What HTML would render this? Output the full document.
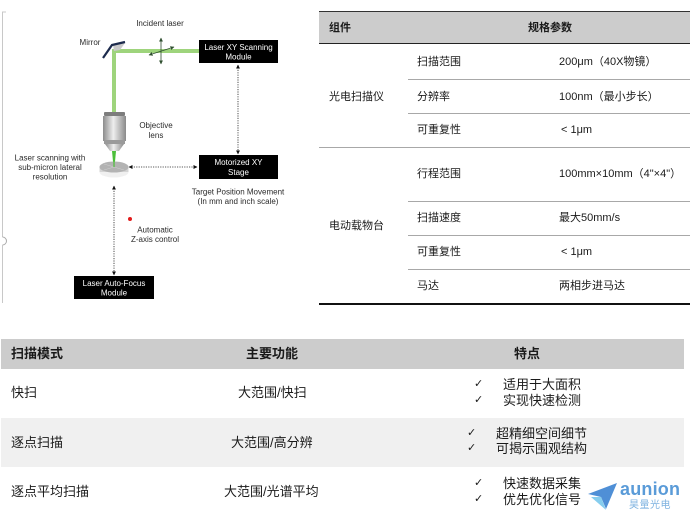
<!DOCTYPE html>
<html><head><meta charset="utf-8"><style>
*{margin:0;padding:0;box-sizing:border-box}
body{width:696px;height:522px;background:#fff;position:relative;overflow:hidden;font-family:"Liberation Sans","Noto Sans CJK SC",sans-serif;color:#1a1a1a}
.a{position:absolute;white-space:nowrap}
.t{font-size:11px;line-height:14px}
.b{font-size:13px;line-height:16px}
.hl{position:absolute;height:1px;background:#a8a8a8}
.ck{font-family:"DejaVu Sans",sans-serif;font-size:11px}
</style></head><body>

<!-- Diagram -->
<svg class="a" style="left:0;top:0" width="310" height="310" viewBox="0 0 310 310">
<defs>
<linearGradient id="lens" x1="0" x2="1" y1="0" y2="0">
<stop offset="0" stop-color="#8c8c8c"/><stop offset="0.45" stop-color="#eeeeee"/><stop offset="1" stop-color="#8a8a8a"/>
</linearGradient>
<marker id="ah" viewBox="0 0 10 10" refX="9" refY="5" markerWidth="5" markerHeight="5" orient="auto-start-reverse"><path d="M0,0 L10,5 L0,10 z" fill="#111"/></marker>
<marker id="ag" viewBox="0 0 10 10" refX="9" refY="5" markerWidth="5" markerHeight="5" orient="auto-start-reverse"><path d="M0,0 L10,5 L0,10 z" fill="#2f4f2f"/></marker>
</defs>
<!-- frame -->
<path d="M6,12 L2.5,12 L2.5,237" fill="none" stroke="#c8c8c8" stroke-width="1"/>
<path d="M2.5,237 A4,4 0 0 1 2.5,245" fill="none" stroke="#aaa" stroke-width="1"/>
<path d="M2.5,245 L2.5,303" fill="none" stroke="#c8c8c8" stroke-width="1"/>
<!-- beams -->
<rect x="114" y="49" width="86" height="4" fill="#9ed47c"/>
<rect x="112" y="49" width="4" height="64" fill="#9ed47c"/>
<!-- mirror -->
<polygon points="113,45 125,43 120,50 114,51" fill="#c9c9c9"/>
<polyline points="103,58 112,45 125,42" fill="none" stroke="#1d2b4d" stroke-width="2.2"/>
<!-- cross arrows -->
<line x1="161" y1="38" x2="161" y2="64" stroke="#2f4f2f" stroke-width="0.8" marker-start="url(#ag)" marker-end="url(#ag)"/>
<line x1="149" y1="55" x2="174" y2="47" stroke="#2f4f2f" stroke-width="0.8" marker-start="url(#ag)" marker-end="url(#ag)"/>
<!-- objective -->
<rect x="104" y="112" width="21" height="4" rx="1" fill="#7d7d7d"/>
<rect x="103" y="116" width="23" height="25" fill="url(#lens)"/>
<rect x="104" y="140" width="21" height="4" fill="#9a9a9a"/>
<polygon points="105,144 124,144 119,151 110,151" fill="url(#lens)"/>
<polygon points="112,151 116,151 114.5,167 113.5,167" fill="#4cbf3a"/>
<!-- stage -->
<ellipse cx="114" cy="172" rx="14.5" ry="5.5" fill="#f0f0f0"/>
<rect x="99.5" y="167" width="29" height="5" fill="#d4d4d4"/>
<ellipse cx="114" cy="167" rx="14.5" ry="5.5" fill="#b3b3b3"/>
<line x1="114" y1="167" x2="104" y2="164" stroke="#d0d0d0" stroke-width="0.5"/>
<line x1="114" y1="167" x2="124" y2="170" stroke="#d0d0d0" stroke-width="0.5"/>
<line x1="114" y1="167" x2="104" y2="170" stroke="#d0d0d0" stroke-width="0.5"/>
<line x1="114" y1="167" x2="114" y2="155" stroke="#4cbf3a" stroke-width="1.2"/>
<!-- dotted connectors -->
<line x1="238" y1="65" x2="238" y2="154" stroke="#222" stroke-width="0.8" stroke-dasharray="1.2,1.2" marker-start="url(#ah)" marker-end="url(#ah)"/>
<line x1="129" y1="167" x2="197" y2="167" stroke="#222" stroke-width="0.8" stroke-dasharray="1.2,1.2" marker-start="url(#ah)" marker-end="url(#ah)"/>
<line x1="114" y1="186" x2="114" y2="275" stroke="#222" stroke-width="0.8" stroke-dasharray="1.2,1.2" marker-start="url(#ah)" marker-end="url(#ah)"/>
<circle cx="130" cy="219" r="2" fill="#e21b1b"/>
<!-- boxes -->
<rect x="199" y="40" width="79" height="23" fill="#000"/>
<rect x="199" y="155" width="79" height="24" fill="#000"/>
<rect x="74" y="276" width="80" height="23" fill="#000"/>
<g font-family="Liberation Sans, sans-serif" font-size="8" text-anchor="middle">
<text x="238.5" y="50" fill="#fff">Laser XY Scanning</text>
<text x="238.5" y="59.5" fill="#fff">Module</text>
<text x="238.5" y="165" fill="#fff">Motorized XY</text>
<text x="238.5" y="175" fill="#fff">Stage</text>
<text x="114" y="286" fill="#fff">Laser Auto-Focus</text>
<text x="114" y="295.5" fill="#fff">Module</text>
<g fill="#2a2a2a">
<text x="160" y="26">Incident laser</text>
<text x="90" y="45">Mirror</text>
<text x="156" y="128">Objective</text>
<text x="156" y="138">lens</text>
<text x="50" y="160.5">Laser scanning with</text>
<text x="50" y="170">sub-micron lateral</text>
<text x="50" y="179.5">resolution</text>
<text x="238" y="194.5">Target Position Movement</text>
<text x="238" y="204">(In mm and inch scale)</text>
<text x="155" y="232.5">Automatic</text>
<text x="155" y="242">Z-axis control</text>
</g>
</g>
</svg>

<!-- Top-right table -->
<div class="a" style="left:319px;top:11px;width:371px;height:33px;background:#cccccc;border-top:1.5px solid #333;border-bottom:1.5px solid #222"></div>
<div class="a t" style="left:329px;top:21px;font-weight:bold">组件</div>
<div class="a t" style="left:528px;top:21px;font-weight:bold">规格参数</div>

<div class="hl" style="left:408px;top:79px;width:282px"></div>
<div class="hl" style="left:408px;top:113px;width:282px"></div>
<div class="hl" style="left:319px;top:147px;width:371px"></div>
<div class="hl" style="left:408px;top:201px;width:282px"></div>
<div class="hl" style="left:408px;top:235px;width:282px"></div>
<div class="hl" style="left:408px;top:269px;width:282px"></div>
<div class="a" style="left:319px;top:303px;width:371px;height:1.5px;background:#111"></div>

<div class="a t" style="left:329px;top:90px">光电扫描仪</div>
<div class="a t" style="left:417px;top:55px">扫描范围</div>
<div class="a t" style="left:559px;top:55px">200μm（40X物镜）</div>
<div class="a t" style="left:417px;top:90px">分辨率</div>
<div class="a t" style="left:559px;top:90px">100nm（最小步长）</div>
<div class="a t" style="left:417px;top:123px">可重复性</div>
<div class="a t" style="left:561px;top:123px">&lt; 1μm</div>

<div class="a t" style="left:329px;top:219px">电动载物台</div>
<div class="a t" style="left:417px;top:167px">行程范围</div>
<div class="a t" style="left:559px;top:167px">100mm×10mm（4"×4"）</div>
<div class="a t" style="left:417px;top:211px">扫描速度</div>
<div class="a t" style="left:559px;top:211px">最大50mm/s</div>
<div class="a t" style="left:417px;top:245px">可重复性</div>
<div class="a t" style="left:561px;top:245px">&lt; 1μm</div>
<div class="a t" style="left:417px;top:279px">马达</div>
<div class="a t" style="left:559px;top:279px">两相步进马达</div>

<!-- Bottom table -->
<div class="a" style="left:1px;top:339px;width:683px;height:30px;background:#cccccc"></div>
<div class="a" style="left:1px;top:418px;width:683px;height:49px;background:#f0f0f0"></div>
<div class="a b" style="left:11px;top:346px;font-weight:bold">扫描模式</div>
<div class="a b" style="left:246px;top:346px;font-weight:bold">主要功能</div>
<div class="a b" style="left:514px;top:346px;font-weight:bold">特点</div>

<div class="a b" style="left:11px;top:385px">快扫</div>
<div class="a b" style="left:11px;top:435px">逐点扫描</div>
<div class="a b" style="left:11px;top:484px">逐点平均扫描</div>
<div class="a b" style="left:238px;top:385px">大范围/快扫</div>
<div class="a b" style="left:231px;top:435px">大范围/高分辨</div>
<div class="a b" style="left:224px;top:484px">大范围/光谱平均</div>

<div class="a ck" style="left:474px;top:377px">✓</div>
<div class="a ck" style="left:474px;top:393px">✓</div>
<div class="a b" style="left:503px;top:377px">适用于大面积</div>
<div class="a b" style="left:503px;top:393px">实现快速检测</div>
<div class="a ck" style="left:467px;top:426px">✓</div>
<div class="a ck" style="left:467px;top:441px">✓</div>
<div class="a b" style="left:496px;top:426px">超精细空间细节</div>
<div class="a b" style="left:496px;top:441px">可揭示围观结构</div>
<div class="a ck" style="left:474px;top:476px">✓</div>
<div class="a ck" style="left:474px;top:492px">✓</div>
<div class="a b" style="left:503px;top:476px">快速数据采集</div>
<div class="a b" style="left:503px;top:492px">优先优化信号</div>

<!-- logo -->
<svg class="a" style="left:585px;top:480px" width="36" height="34" viewBox="0 0 36 34">
<polygon points="3,14 32,3 21,29 16,17" fill="#4f8fd6"/>
<polygon points="6,17 16,17 21,30" fill="#86cdee"/>
</svg>
<div class="a" style="left:620px;top:479px;font-size:18px;line-height:20px;font-weight:bold;color:#5a9bd8;letter-spacing:0.2px">aunion</div>
<div class="a" style="left:629px;top:500px;font-size:10px;line-height:12px;color:#7fb3e0;letter-spacing:0.5px">昊量光电</div>

</body></html>
